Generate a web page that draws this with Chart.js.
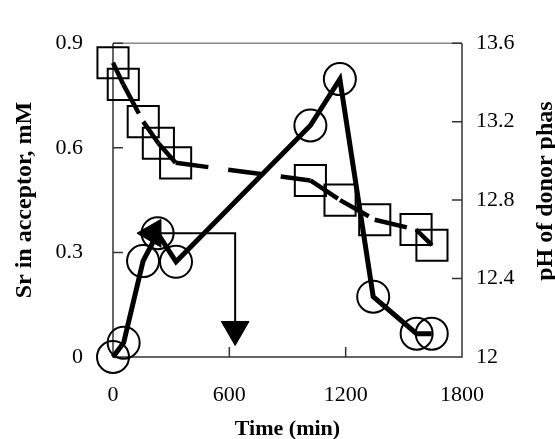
<!DOCTYPE html>
<html>
<head>
<meta charset="utf-8">
<script src="https://cdn.jsdelivr.net/npm/chart.js@4.4.0/dist/chart.umd.min.js"></script>
<style>
  body { margin: 0; background: #fff; }
  #wrap { width: 555px; height: 439px; position: relative; }
</style>
</head>
<body>
<div id="wrap"><canvas id="srChart"></canvas></div>
<script>
// Sr in acceptor (circles, solid line)
const srTime = [0, 55, 155, 230, 325, 1018, 1170, 1342, 1566, 1644];
const srConc = [0, 0.041, 0.275, 0.355, 0.273, 0.664, 0.797, 0.173, 0.067, 0.067];

// pH of donor phase (squares, dashed line)
const phTime = [0, 53, 156, 234, 323, 1018, 1171, 1350, 1563, 1645];
const phValue = [13.5, 13.39, 13.2, 13.09, 12.99, 12.9, 12.8, 12.7, 12.65, 12.57];

// annotation arrow (left head, corner, down head)
const arrowTime = [206, 630, 630];
const arrowConc = [0.355, 0.355, 0.079];

const timeTicks = [0, 600, 1200, 1800];
const srTicks = [0, 0.3, 0.6, 0.9];
const phTicks = [12, 12.4, 12.8, 13.2, 13.6];
const timeTickLabels = ["0", "600", "1200", "1800"];
const srTickLabels = ["0", "0.3", "0.6", "0.9"];
const phTickLabels = ["12", "12.4", "12.8", "13.2", "13.6"];

const xTitle = "Time (min)";
const srTitle = "Sr in acceptor, mM";
const phTitle = "pH of donor phas";

const serif = "'Liberation Serif', 'Times New Roman', serif";

function toPoints(xs, ys) {
  return xs.map((x, i) => ({ x: x, y: ys[i] }));
}

// frame, inward tick marks and the right axis title
const framePlugin = {
  id: "frame",
  beforeDatasetsDraw(chart) {
    const { ctx, chartArea: a, scales } = chart;
    ctx.save();
    ctx.lineWidth = 1.5;
    ctx.strokeStyle = "#888";
    ctx.beginPath();
    ctx.moveTo(a.left, a.top);
    ctx.lineTo(a.right, a.top);
    ctx.stroke();

    ctx.strokeStyle = "#333";
    ctx.beginPath();
    ctx.moveTo(a.left, a.top);
    ctx.lineTo(a.left, a.bottom);
    ctx.lineTo(a.right, a.bottom);
    ctx.lineTo(a.right, a.top);
    timeTicks.forEach((v) => {
      const px = scales.x.getPixelForValue(v);
      ctx.moveTo(px, a.bottom);
      ctx.lineTo(px, a.bottom - 10);
    });
    srTicks.forEach((v) => {
      const py = scales.y.getPixelForValue(v);
      ctx.moveTo(a.left, py);
      ctx.lineTo(a.left + 10, py);
    });
    phTicks.forEach((v) => {
      const py = scales.y1.getPixelForValue(v);
      ctx.moveTo(a.right, py);
      ctx.lineTo(a.right - 10, py);
    });
    ctx.stroke();

    ctx.translate(a.right + 84, (a.top + a.bottom) / 2 - 9);
    ctx.rotate(-Math.PI / 2);
    ctx.font = "bold 24px " + serif;
    ctx.textAlign = "center";
    ctx.textBaseline = "middle";
    ctx.fillStyle = "#000";
    ctx.fillText(phTitle, 0, 0);
    ctx.restore();
  },
};

const ctx = document.getElementById("srChart").getContext("2d");
const srChart = new Chart(ctx, {
  type: "line",
  data: {
    datasets: [
      {
        label: "Sr",
        data: toPoints(srTime, srConc),
        yAxisID: "y",
        borderColor: "#000",
        borderWidth: 5,
        pointStyle: "circle",
        pointRadius: 16,
        pointBorderWidth: 2,
        pointBorderColor: "#000",
        pointBackgroundColor: "rgba(0,0,0,0)",
        clip: false,
      },
      {
        label: "pH",
        data: toPoints(phTime, phValue),
        yAxisID: "y1",
        borderColor: "#000",
        borderWidth: 4.5,
        borderDash: [33, 20],
        // restart the dash pattern at every point, like the original
        segment: { borderDashOffset: (c) => c.p0DataIndex * 0.001 },
        pointStyle: "rect",
        pointRadius: 22,
        pointBorderWidth: 2,
        pointBorderColor: "#000",
        pointBackgroundColor: "rgba(0,0,0,0)",
        clip: false,
      },
      {
        label: "arrow",
        data: toPoints(arrowTime, arrowConc),
        yAxisID: "y",
        borderColor: "#000",
        borderWidth: 2,
        pointStyle: "triangle",
        pointRotation: [-90, 0, 180],
        pointRadius: [16, 0, 16],
        pointBorderWidth: 1,
        pointBorderColor: "#000",
        pointBackgroundColor: "#000",
        clip: false,
      },
    ],
  },
  options: {
    responsive: true,
    maintainAspectRatio: false,
    animation: false,
    events: [],
    layout: { padding: { top: 17, left: 0, right: 0, bottom: 0 } },
    plugins: {
      legend: { display: false },
      tooltip: { enabled: false },
    },
    scales: {
      x: {
        type: "linear",
        min: 0,
        max: 1800,
        afterBuildTicks: (s) => { s.ticks = timeTicks.map((v) => ({ value: v })); },
        afterFit: (s) => { s.height = 82; },
        grid: { display: false, drawTicks: false },
        border: { display: false },
        ticks: {
          padding: 25,
          color: "#000",
          font: { family: serif, size: 22 },
          callback: (v, i) => timeTickLabels[i],
        },
        title: {
          display: true,
          text: xTitle,
          color: "#000",
          font: { family: serif, size: 22, weight: "bold", lineHeight: 0.9 },
          padding: 0,
        },
      },
      y: {
        position: "left",
        min: 0,
        max: 0.9,
        afterBuildTicks: (s) => { s.ticks = srTicks.map((v) => ({ value: v })); },
        afterFit: (s) => { s.width = 113; },
        grid: { display: false, drawTicks: false },
        border: { display: false },
        ticks: {
          padding: 30,
          color: "#000",
          font: { family: serif, size: 22 },
          callback: (v, i) => srTickLabels[i],
        },
        title: {
          display: true,
          text: srTitle,
          color: "#000",
          font: { family: serif, size: 24, weight: "bold", lineHeight: 1.2 },
          padding: { top: 10, bottom: 0 },
        },
      },
      y1: {
        position: "right",
        min: 12,
        max: 13.6,
        afterBuildTicks: (s) => { s.ticks = phTicks.map((v) => ({ value: v })); },
        afterFit: (s) => { s.width = 93; },
        grid: { display: false, drawTicks: false },
        border: { display: false },
        ticks: {
          padding: 14,
          color: "#000",
          font: { family: serif, size: 22 },
          callback: (v, i) => phTickLabels[i],
        },
      },
    },
  },
  plugins: [framePlugin],
});
</script>
</body>
</html>
